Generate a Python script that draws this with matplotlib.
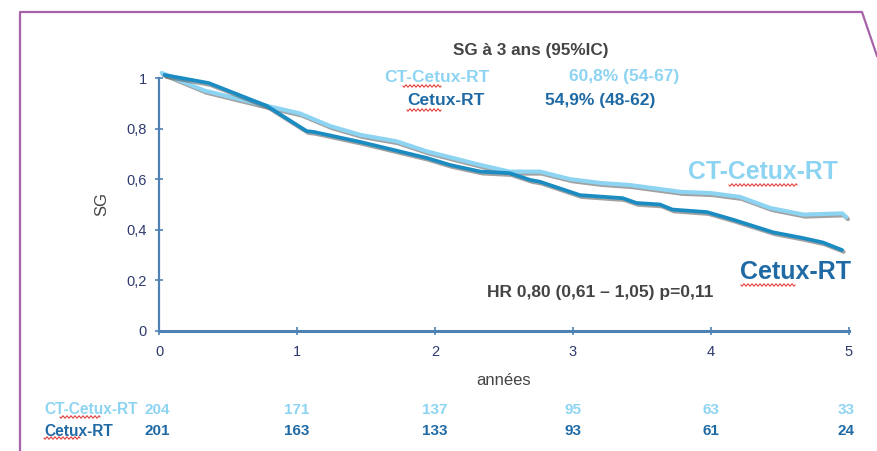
import numpy as np
import matplotlib
matplotlib.use("Agg")
import matplotlib.pyplot as plt
import matplotlib.patheffects as pe
from matplotlib import font_manager
from matplotlib.lines import Line2D

# Survival curves (years, overall survival)
ct_t = [0.02, 0.33, 0.78, 1.02, 1.24, 1.46, 1.72, 1.94, 2.33, 2.54, 2.76,
        2.98, 3.20, 3.41, 3.78, 4.00, 4.21, 4.43, 4.67, 4.95, 4.98]
ct_s = [1.02, 0.95, 0.89, 0.86, 0.81, 0.775, 0.75, 0.71, 0.656, 0.63, 0.63,
        0.60, 0.585, 0.577, 0.55, 0.545, 0.53, 0.486, 0.46, 0.465, 0.45]

cx_t = [0.04, 0.36, 0.78, 1.07, 1.12, 1.46, 1.94, 2.11, 2.33, 2.54, 2.69,
        2.76, 3.05, 3.36, 3.46, 3.63, 3.72, 3.97, 4.16, 4.45, 4.67, 4.81, 4.95]
cx_s = [1.012, 0.98, 0.89, 0.79, 0.787, 0.747, 0.684, 0.656, 0.63, 0.624, 0.597,
        0.59, 0.537, 0.525, 0.506, 0.50, 0.48, 0.47, 0.44, 0.39, 0.367, 0.35, 0.32]

# Numbers at risk
risk_times = [0, 1, 2, 3, 4, 5]
risk_ct = [204, 171, 137, 95, 63, 33]
risk_cx = [201, 163, 133, 93, 61, 24]

x_ticks = [0, 1, 2, 3, 4, 5]
y_ticks = [0, 0.2, 0.4, 0.6, 0.8, 1.0]
y_ticklabels = ["0", "0,2", "0,4", "0,6", "0,8", "1"]

LIGHT = "#8dd4f2"
DARK = "#1a8cc2"
DARK_TXT = "#1f6aa5"
GRAY_TXT = "#444444"
AXIS = "#4f82b4"
TICK_TXT = "#2e3a6e"
FRAME = "#a663aa"

available = {f.name for f in font_manager.fontManager.ttflist}
family = "Liberation Sans Narrow" if "Liberation Sans Narrow" in available else "Liberation Sans"
plt.rcParams["font.family"] = [family, "DejaVu Sans"]

W, H = 877, 451
fig = plt.figure(figsize=(W / 100, H / 100), dpi=100)


def fx(x):
    return x / W


def fy(y):
    return 1 - y / H


# slide frame
fig.add_artist(Line2D([fx(20), fx(20), fx(862), fx(877)],
                      [fy(451), fy(12), fy(12), fy(56)],
                      color=FRAME, lw=1.6, transform=fig.transFigure))

ax = fig.add_axes([fx(159), fy(331), fx(849) - fx(159), fy(78) - fy(331)])
ax.set_xlim(0, 5)
ax.set_ylim(0, 1)

shadow = [pe.SimpleLineShadow(offset=(1.2, -1.4), shadow_color="#555555", alpha=0.55),
          pe.Normal()]
ax.plot(ct_t, ct_s, color=LIGHT, lw=3.0, solid_capstyle="round",
        path_effects=shadow, clip_on=False, zorder=3)
ax.plot(cx_t, cx_s, color=DARK, lw=2.7, solid_capstyle="round",
        path_effects=shadow, clip_on=False, zorder=4)

for side in ("top", "right"):
    ax.spines[side].set_visible(False)
for side in ("left", "bottom"):
    ax.spines[side].set_color(AXIS)
    ax.spines[side].set_linewidth(1.6)
ax.spines["bottom"].set_linewidth(2.2)

ax.set_xticks(x_ticks)
ax.set_xticklabels([str(v) for v in x_ticks])
ax.set_yticks(y_ticks)
ax.set_yticklabels(y_ticklabels)
ax.tick_params(axis="both", direction="inout", length=6, width=1.2, color=AXIS,
               labelcolor=TICK_TXT, labelsize=10.5)
ax.tick_params(axis="x", pad=7)
ax.tick_params(axis="y", pad=6)

ax.set_xlabel("années", fontsize=12, color=GRAY_TXT, labelpad=10)
ax.set_ylabel("SG", fontsize=12, color=GRAY_TXT, labelpad=12)

# summary box
fig.text(fx(531), fy(50), "SG à 3 ans (95%IC)", ha="center", va="center",
         fontsize=12.3, fontweight="bold", color=GRAY_TXT)
fig.text(fx(384), fy(77), "CT-Cetux-RT", ha="left", va="center",
         fontsize=12.5, fontweight="bold", color=LIGHT)
fig.text(fx(569), fy(77), "60,8% (54-67)", ha="left", va="center",
         fontsize=12.5, fontweight="bold", color=LIGHT)
fig.text(fx(407), fy(101), "Cetux-RT", ha="left", va="center",
         fontsize=12.5, fontweight="bold", color=DARK_TXT)
fig.text(fx(545), fy(101), "54,9% (48-62)", ha="left", va="center",
         fontsize=12.5, fontweight="bold", color=DARK_TXT)

# curve labels
fig.text(fx(838), fy(172), "CT-Cetux-RT", ha="right", va="center",
         fontsize=17.8, fontweight="bold", color=LIGHT)
fig.text(fx(851), fy(272), "Cetux-RT", ha="right", va="center",
         fontsize=18, fontweight="bold", color=DARK_TXT)
fig.text(fx(713), fy(292), "HR 0,80 (0,61 – 1,05) p=0,11", ha="right", va="center",
         fontsize=12.5, fontweight="bold", color=GRAY_TXT)

# numbers at risk
row_y = [fy(410), fy(431)]
fig.text(fx(44), row_y[0], "CT-Cetux-RT", ha="left", va="center",
         fontsize=11.2, color=LIGHT, fontweight="bold")
fig.text(fx(44), row_y[1], "Cetux-RT", ha="left", va="center",
         fontsize=11.2, color=DARK_TXT, fontweight="bold")
tr = matplotlib.transforms.blended_transform_factory(ax.transData, fig.transFigure)
for t, a, b in zip(risk_times, risk_ct, risk_cx):
    dx = -0.015 if t == 0 else (-0.02 if t == 5 else 0)
    fig.text(t + dx, row_y[0], str(a), ha="center", va="center", fontsize=11,
             fontweight="bold", color=LIGHT, transform=tr)
    fig.text(t + dx, row_y[1], str(b), ha="center", va="center", fontsize=11,
             fontweight="bold", color=DARK_TXT, transform=tr)


# spell-check squiggles under "Cetux"
def squiggle(x0, x1, y, amp=1.2, period=4.0):
    xs = np.linspace(x0, x1, int((x1 - x0) * 2) + 2)
    ys = y + amp * np.sin(2 * np.pi * (xs - x0) / period)
    fig.add_artist(Line2D(xs / W, 1 - ys / H, color="#e0302a", lw=0.7,
                          transform=fig.transFigure))


squiggle(403, 441, 86)
squiggle(407, 441, 110)
squiggle(729, 797, 185)
squiggle(741, 795, 285)
squiggle(60, 100, 417)
squiggle(44, 80, 438)

fig.savefig("out.png", dpi=100)
